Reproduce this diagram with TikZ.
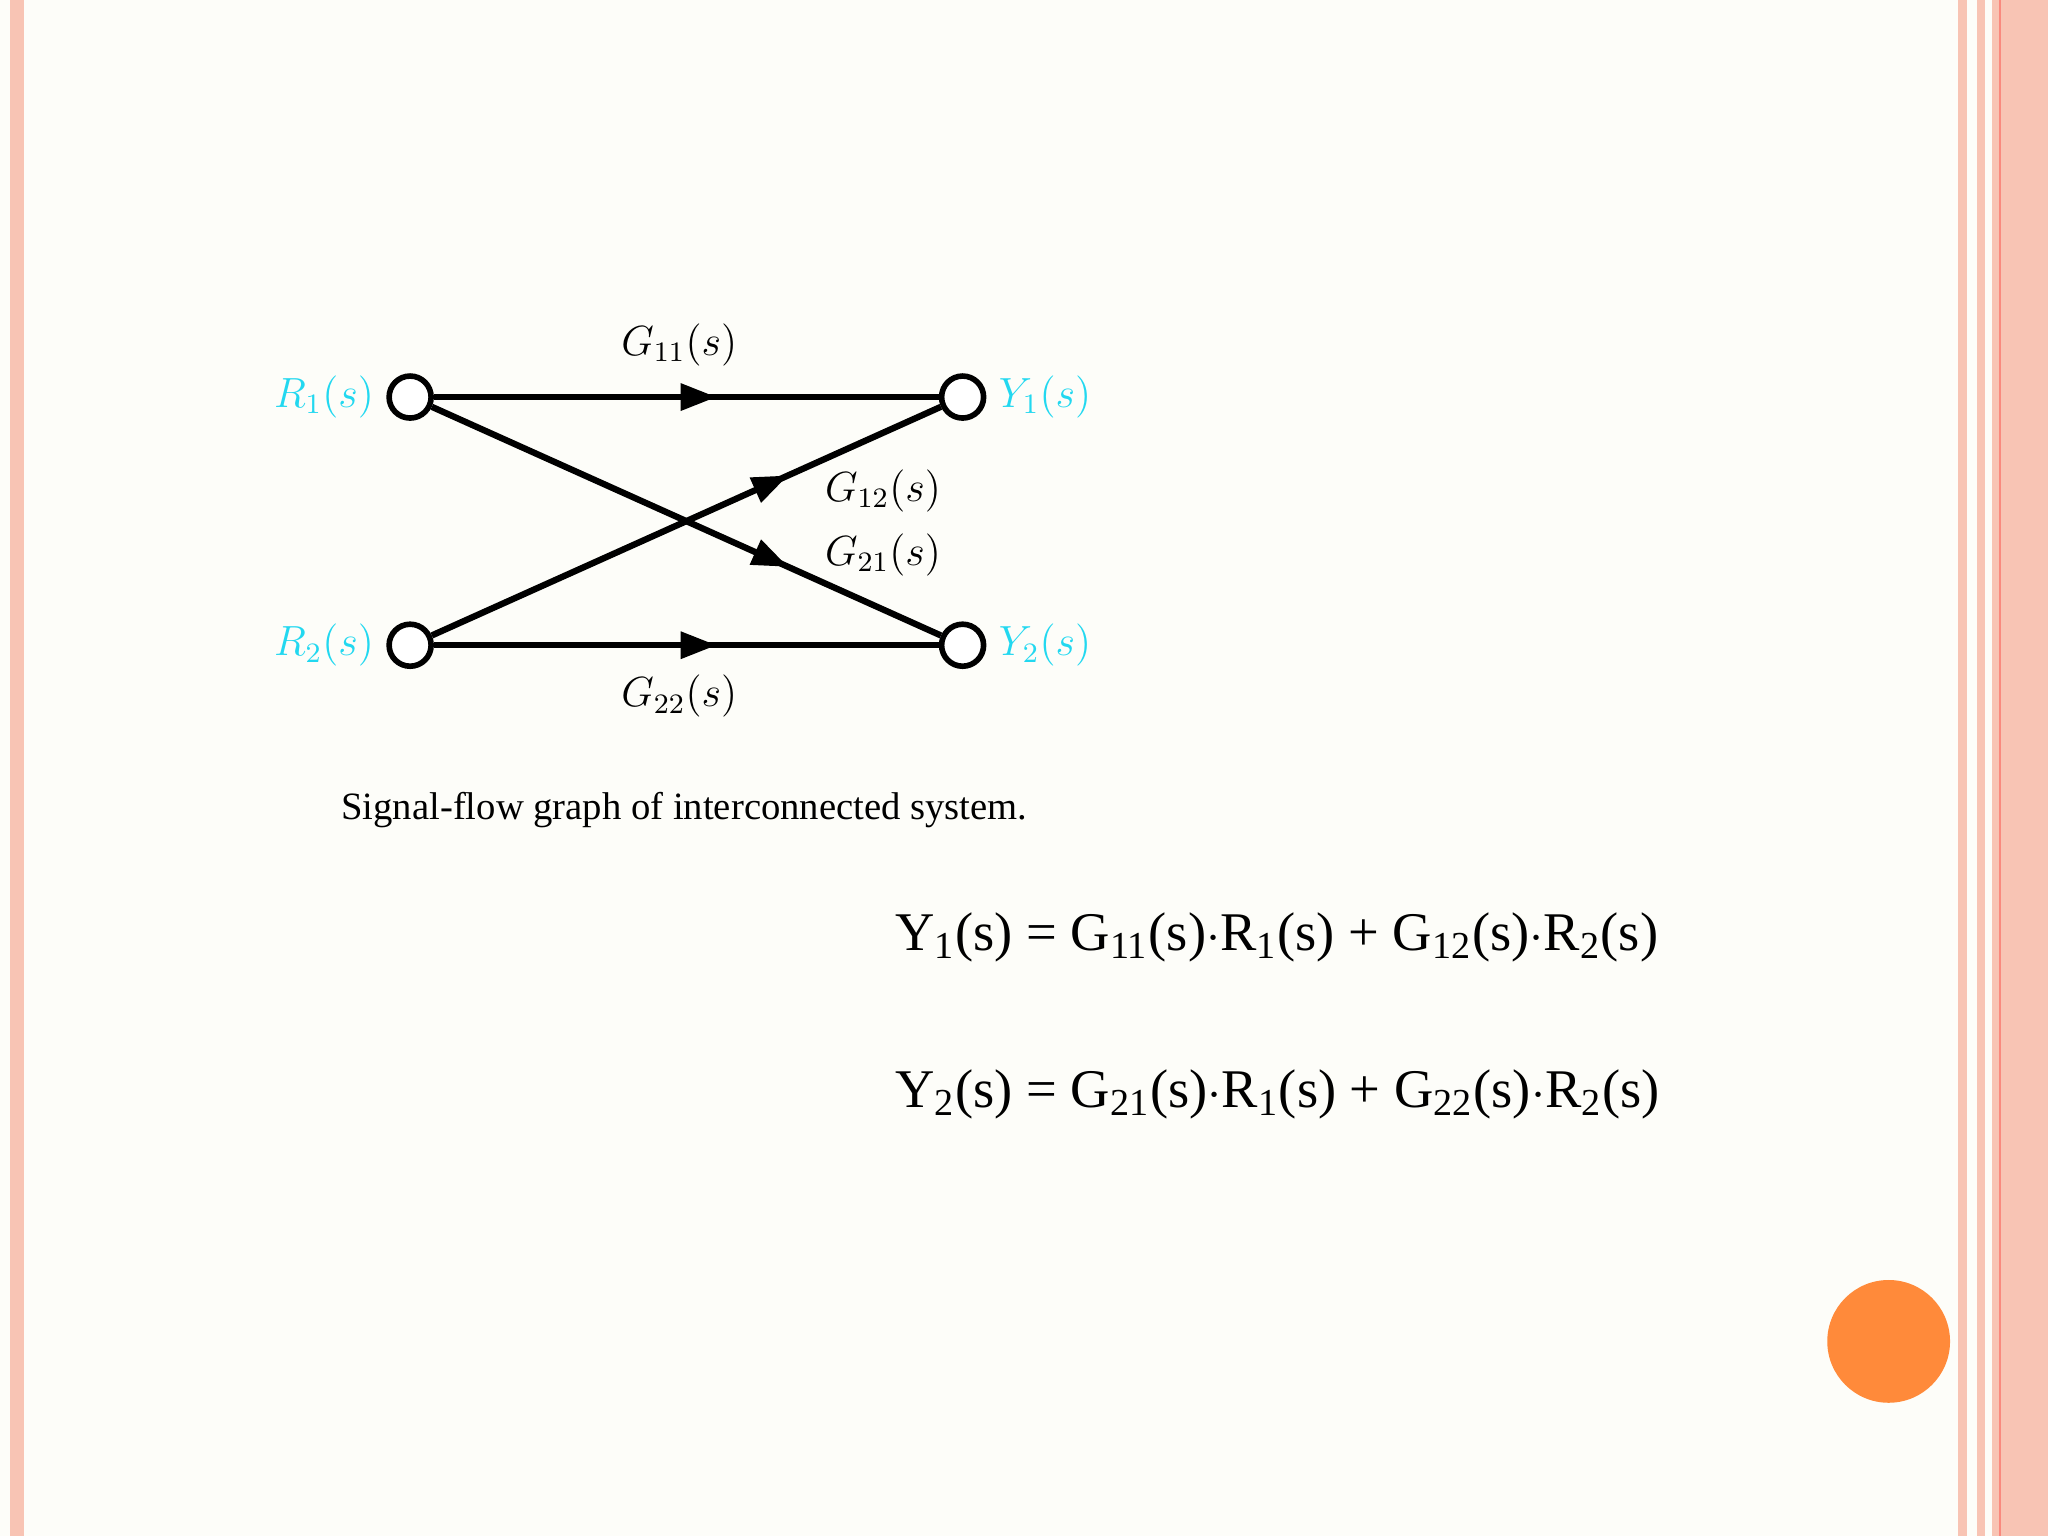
\documentclass[tikz,border=0pt]{standalone}
\usepackage{fontspec}
\setmainfont{Liberation Serif}
\setsansfont{Liberation Sans}
\usetikzlibrary{decorations.markings,arrows.meta}
\definecolor{bg}{HTML}{FDFDF9}
\definecolor{pinkb}{HTML}{F8C4B4}
\definecolor{cy}{HTML}{22D8F0}
\definecolor{orng}{HTML}{FF8A3A}
\tikzset{
 sfnode/.style={circle,draw,line width=1.6pt,minimum size=0.42cm,inner sep=0pt,fill=white},
 branch/.style={line width=1.8pt,postaction={decorate},decoration={markings,mark=at position #1 with {\arrow{Triangle[length=0.36cm,width=0.26cm]}}}},
 lab/.style={font=\fontsize{12}{12}\selectfont\itshape},
 io/.style={lab,text=cy},
 eq/.style={font=\fontsize{15.5}{15.5}\selectfont,anchor=west}
}
\begin{document}
\begin{tikzpicture}[x=0.01306cm,y=-0.01306cm]
\useasboundingbox (0,0) rectangle (1568,1176);
\fill[bg] (0,0) rectangle (1568,1176);
\fill[pinkb] (8,0) rectangle (18,1176);
\fill[pinkb] (1499,0) rectangle (1506,1176);
\fill[pinkb] (1514,0) rectangle (1520,1176);
\fill[pinkb] (1525,0) rectangle (1568,1176);
\draw[pinkb!70!red,line width=0.6pt] (1531,0) -- (1531,1176);
\node[sfnode] (r1) at (314,304) {};
\node[sfnode] (y1) at (737,304) {};
\node[sfnode] (r2) at (314,494) {};
\node[sfnode] (y2) at (737,494) {};
\draw[branch=0.56] (r1) -- (y1);
\draw[branch=0.56] (r2) -- (y2);
\draw[branch=0.7] (r1) -- (y2);
\draw[branch=0.7] (r2) -- (y1);
\node[io,anchor=east] at (r1.west) {$R_1(s)$};
\node[io,anchor=east] at (r2.west) {$R_2(s)$};
\node[io,anchor=west] at (y1.east) {$Y_1(s)$};
\node[io,anchor=west] at (y2.east) {$Y_2(s)$};
\node[lab] (g11) at (520,264) {$G_{11}(s)$};
\node[lab] (g12) at (676,376) {$G_{12}(s)$};
\node[lab] (g21) at (676,425) {$G_{21}(s)$};
\node[lab] (g22) at (520,533) {$G_{22}(s)$};
\node[font=\fontsize{11}{11}\selectfont] (cap) at (524,620) {Signal-flow graph of interconnected system.};
\node[eq] (e1) at (676,718) {Y\textsubscript{1}(s) = G\textsubscript{11}(s)$\cdot$R\textsubscript{1}(s) + G\textsubscript{12}(s)$\cdot$R\textsubscript{2}(s)};
\node[eq] (e2) at (676,838) {Y\textsubscript{2}(s) = G\textsubscript{21}(s)$\cdot$R\textsubscript{1}(s) + G\textsubscript{22}(s)$\cdot$R\textsubscript{2}(s)};
\fill[orng] (1446,1027) circle (47);
\end{tikzpicture}
\end{document}
